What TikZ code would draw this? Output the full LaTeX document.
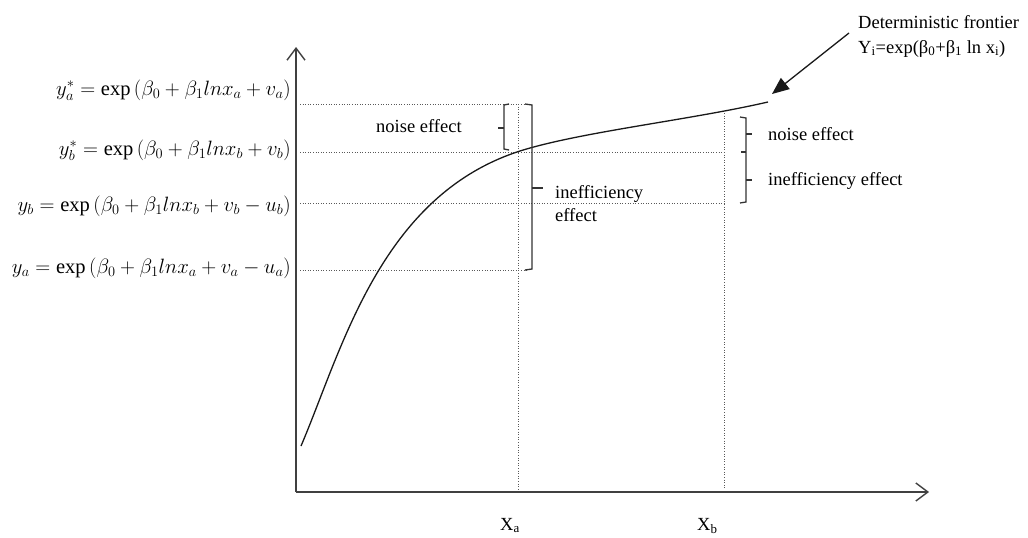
\documentclass[tikz,border=0pt]{standalone}
\usepackage{fontspec}
\setmainfont{Liberation Serif}
\usetikzlibrary{arrows.meta}
\begin{document}
\begin{tikzpicture}[x=1pt,y=-1pt,
  axis/.style={line width=1.4pt, draw=black!75, -{Straight Barb[length=12pt,width=18pt,line width=1.4pt]}},
  guide/.style={dash pattern=on 1pt off 1.6pt, line width=0.9pt, draw=black!65},
  brace/.style={line width=1.3pt, draw=black!80},
  frontier/.style={line width=1.3pt, draw=black!90},
  pointer/.style={line width=1.3pt, draw=black!90, -{Triangle[length=17pt,width=14pt]}},
  lbl/.style={font=\fontsize{18.5}{23}\selectfont, inner sep=0pt, anchor=base west},
  eq/.style={font=\fontsize{20.5}{24}\selectfont, inner sep=0pt, anchor=east}]
\useasboundingbox (0,0) rectangle (1028,538);
\clip (0,0) rectangle (1028,538);
\fill[white] (0,0) rectangle (1028,538);

% axes
\coordinate (O) at (296,492);
\coordinate (Ytop) at (296,47);
\coordinate (Xend) at (929,492);
\draw[axis] (O) -- (Ytop);
\draw[axis] (O) -- (Xend);

% guide lines
\draw[guide] (300,104) -- (530,104);
\draw[guide] (300,152) -- (724,152);
\draw[guide] (300,203) -- (724,203);
\draw[guide] (300,270) -- (528,270);
\draw[guide] (518,104) -- (518,490);
\draw[guide] (724,113) -- (724,490);

% frontier curve
\coordinate (c0) at (301,446);
\coordinate (c1) at (520,151);
\coordinate (c2) at (768,102);
\draw[frontier] (c0) .. controls (342,350) and (380,196) .. (c1)
                     .. controls (580,132) and (690,120) .. (c2);

% braces
\draw[brace] (509,104) -- (504,105) -- (504,149) -- (509,150);
\draw[brace] (504,128) -- (498,128);
\draw[brace] (525,104) -- (532,105) -- (532,269) -- (525,270);
\draw[brace] (532,188) -- (543,188);
\draw[brace] (740,117) -- (746,118) -- (746,202) -- (740,203);
\draw[brace] (746,134) -- (752,134);
\draw[brace] (746,152) -- (741,152);
\draw[brace] (746,180) -- (752,180);

% equations
\node[eq] (ya1) at (291,90) {$y_a^{*} = \exp\,(\beta_0+\beta_1 lnx_a+v_a)$};
\node[eq] (yb1) at (291,150) {$y_b^{*} = \exp\,(\beta_0+\beta_1 lnx_b+v_b)$};
\node[eq] (yb) at (291,206) {$y_b = \exp\,(\beta_0+\beta_1 lnx_b+v_b-u_b)$};
\node[eq] (ya) at (291,268) {$y_a = \exp\,(\beta_0+\beta_1 lnx_a+v_a-u_a)$};

% labels
\node[lbl] (n1) at (376,132) {noise effect};
\node[lbl] (i1) at (555,198) {inefficiency};
\node[lbl] (i2) at (555,221) {effect};
\node[lbl] (n2) at (768,140) {noise effect};
\node[lbl] (i3) at (768,185) {inefficiency effect};
\node[lbl] (xa) at (500,530) {X\textsubscript{a}};
\node[lbl] (xb) at (697,530) {X\textsubscript{b}};

% deterministic frontier
\node[lbl] (det1) at (858,28) {Deterministic frontier};
\node[lbl] (det2) at (858,53) {Y\textsubscript{i}=exp(β\textsubscript{0}+β\textsubscript{1} ln x\textsubscript{i})};
\coordinate (a0) at (849,33);
\coordinate (a1) at (772,94);
\draw[pointer] (a0) -- (a1);
\end{tikzpicture}
\end{document}
